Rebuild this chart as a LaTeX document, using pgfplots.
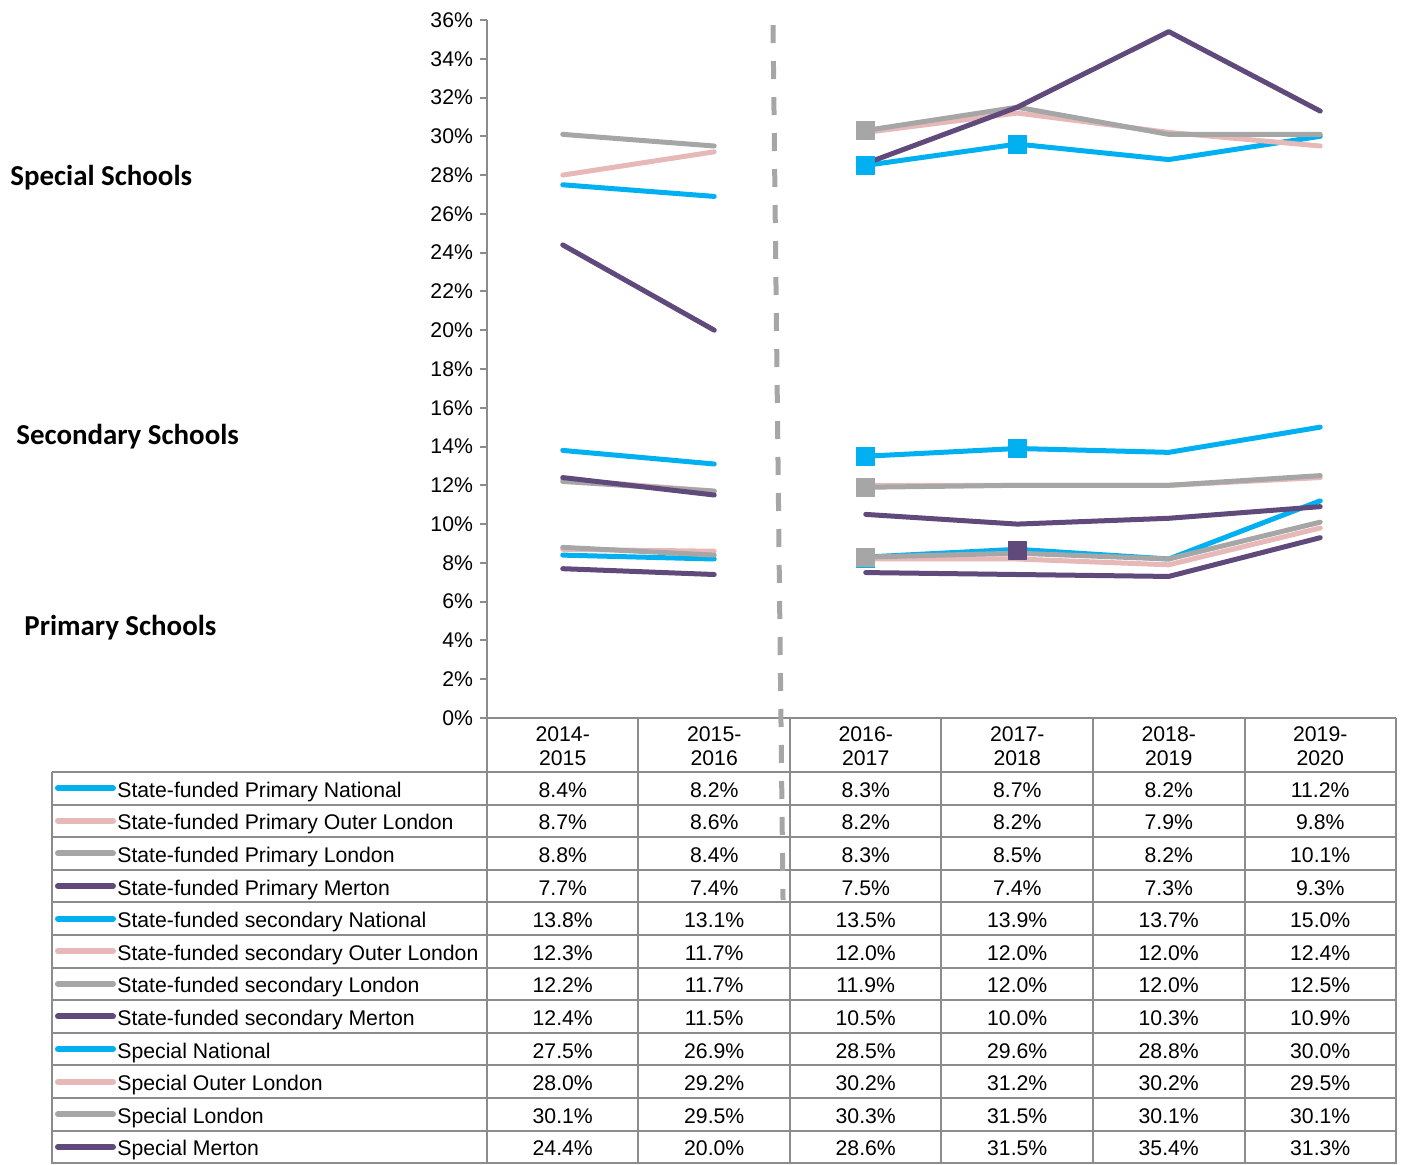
\documentclass[border=0pt]{standalone}
\usepackage{pgfplots}
\pgfplotsset{compat=1.18}
\usepackage{fontspec}
\setmainfont{Liberation Sans}
\newfontfamily\calibri{Carlito}
\definecolor{cBlue}{HTML}{00B0F0}
\definecolor{cPink}{HTML}{E6B9B8}
\definecolor{cGrey}{HTML}{A6A6A6}
\definecolor{cPurple}{HTML}{604A7B}
\definecolor{cLine}{HTML}{8C8C8C}
\newcommand{\fs}{\fontsize{10.65}{12.8}\selectfont}
\newcommand{\lfs}{\calibri\bfseries\fontsize{14.5}{17}\selectfont}
% row: #1 index, #2 colour, #3 label, #4-#9 values
\newcommand{\trow}[9]{%
  \draw[#2, line width=3bp, line cap=round] (axis cs:-3.3317,{-2.7851-1.68137*(#1+0.5)}) -- (axis cs:-2.9686,{-2.7851-1.68137*(#1+0.5)});
  \node[anchor=base west, inner sep=0, font=\fs] at (axis cs:-2.9422,{-3.25-1.68137*(#1+0.5)}) {#3};
  \node[anchor=base, inner sep=0, font=\fs] at (axis cs:0,{-3.25-1.68137*(#1+0.5)}) {#4};
  \node[anchor=base, inner sep=0, font=\fs] at (axis cs:1,{-3.25-1.68137*(#1+0.5)}) {#5};
  \node[anchor=base, inner sep=0, font=\fs] at (axis cs:2,{-3.25-1.68137*(#1+0.5)}) {#6};
  \node[anchor=base, inner sep=0, font=\fs] at (axis cs:3,{-3.25-1.68137*(#1+0.5)}) {#7};
  \node[anchor=base, inner sep=0, font=\fs] at (axis cs:4,{-3.25-1.68137*(#1+0.5)}) {#8};
  \node[anchor=base, inner sep=0, font=\fs] at (axis cs:5,{-3.25-1.68137*(#1+0.5)}) {#9};
}
\begin{document}
\begin{tikzpicture}
\begin{axis}[
  scale only axis, width=454.5bp, height=349bp,
  xmin=-0.5, xmax=5.5, ymin=0, ymax=36,
  axis y line=left, axis x line=none,
  axis line style={-},
  y axis line style={cLine, line width=1bp, -},
  ytick={0,2,...,36}, xtick=\empty,
  tick align=outside, major tick length=3.5bp,
  ytick style={cLine, line width=1bp},
  yticklabel={\pgfmathprintnumber{\tick}\%},
  tick label style={font=\fs},
  /pgf/number format/assume math mode=true,
  clip=false, unbounded coords=jump,
  every axis plot/.append style={line width=2.5bp, line cap=round, line join=round},
  marks/.style={only marks, mark=square*, mark size=4.5bp, mark options={solid, line width=0.5bp}},
]
% bounding box
\path (axis cs:-3.7145,37.031) rectangle (axis cs:5.5594,-22.951);

% Primary
\addplot[cPurple, marks] coordinates {(3,8.65)};
\addplot[cBlue] coordinates {(0,8.4)(1,8.2)(1.5,nan)(2,8.3)(3,8.7)(4,8.2)(5,11.2)};
\addplot[cBlue, marks] coordinates {(2,8.2)};
\addplot[cPink] coordinates {(0,8.7)(1,8.6)(1.5,nan)(2,8.2)(3,8.2)(4,7.9)(5,9.8)};
\addplot[cGrey] coordinates {(0,8.8)(1,8.4)(1.5,nan)(2,8.3)(3,8.5)(4,8.2)(5,10.1)};
\addplot[cGrey, marks] coordinates {(2,8.3)};
\addplot[cPurple] coordinates {(0,7.7)(1,7.4)(1.5,nan)(2,7.5)(3,7.4)(4,7.3)(5,9.3)};
% Secondary
\addplot[cBlue] coordinates {(0,13.8)(1,13.1)(1.5,nan)(2,13.5)(3,13.9)(4,13.7)(5,15.0)};
\addplot[cBlue, marks] coordinates {(2,13.5)(3,13.9)};
\addplot[cPink] coordinates {(0,12.3)(1,11.7)(1.5,nan)(2,12.0)(3,12.0)(4,12.0)(5,12.4)};
\addplot[cGrey] coordinates {(0,12.2)(1,11.7)(1.5,nan)(2,11.9)(3,12.0)(4,12.0)(5,12.5)};
\addplot[cGrey, marks] coordinates {(2,11.9)};
\addplot[cPurple] coordinates {(0,12.4)(1,11.5)(1.5,nan)(2,10.5)(3,10.0)(4,10.3)(5,10.9)};
% Special
\addplot[cBlue] coordinates {(0,27.5)(1,26.9)(1.5,nan)(2,28.5)(3,29.6)(4,28.8)(5,30.0)};
\addplot[cBlue, marks] coordinates {(2,28.5)(3,29.6)};
\addplot[cPink] coordinates {(0,28.0)(1,29.2)(1.5,nan)(2,30.2)(3,31.2)(4,30.2)(5,29.5)};
\addplot[cGrey] coordinates {(0,30.1)(1,29.5)(1.5,nan)(2,30.3)(3,31.5)(4,30.1)(5,30.1)};
\addplot[cGrey, marks] coordinates {(2,30.3)};
\addplot[cPurple] coordinates {(0,24.4)(1,20.0)(1.5,nan)(2,28.6)(3,31.5)(4,35.4)(5,31.3)};

% table grid
\draw[cLine, line width=1bp] (axis cs:-0.5,0) -- (axis cs:5.5,0);
\pgfplotsinvokeforeach{0,...,12}{
  \draw[cLine, line width=1bp] (axis cs:-3.3713,{-2.7851-1.68137*#1}) -- (axis cs:5.5,{-2.7851-1.68137*#1});
}
\pgfplotsinvokeforeach{-0.5,0.5,1.5,2.5,3.5,4.5,5.5}{
  \draw[cLine, line width=1bp] (axis cs:#1,0) -- (axis cs:#1,-22.99);
}
\draw[cLine, line width=1bp] (axis cs:-3.3713,-2.7851) -- (axis cs:-3.3713,-22.99);

% header
\node[anchor=base, inner sep=0, font=\fs] at (axis cs:0,-1.235) {2014-};
\node[anchor=base, inner sep=0, font=\fs] at (axis cs:0,-2.472) {2015};
\node[anchor=base, inner sep=0, font=\fs] at (axis cs:1,-1.235) {2015-};
\node[anchor=base, inner sep=0, font=\fs] at (axis cs:1,-2.472) {2016};
\node[anchor=base, inner sep=0, font=\fs] at (axis cs:2,-1.235) {2016-};
\node[anchor=base, inner sep=0, font=\fs] at (axis cs:2,-2.472) {2017};
\node[anchor=base, inner sep=0, font=\fs] at (axis cs:3,-1.235) {2017-};
\node[anchor=base, inner sep=0, font=\fs] at (axis cs:3,-2.472) {2018};
\node[anchor=base, inner sep=0, font=\fs] at (axis cs:4,-1.235) {2018-};
\node[anchor=base, inner sep=0, font=\fs] at (axis cs:4,-2.472) {2019};
\node[anchor=base, inner sep=0, font=\fs] at (axis cs:5,-1.235) {2019-};
\node[anchor=base, inner sep=0, font=\fs] at (axis cs:5,-2.472) {2020};

% rows
\trow{0}{cBlue}{State-funded Primary National}{8.4\%}{8.2\%}{8.3\%}{8.7\%}{8.2\%}{11.2\%}
\trow{1}{cPink}{State-funded Primary Outer London}{8.7\%}{8.6\%}{8.2\%}{8.2\%}{7.9\%}{9.8\%}
\trow{2}{cGrey}{State-funded Primary London}{8.8\%}{8.4\%}{8.3\%}{8.5\%}{8.2\%}{10.1\%}
\trow{3}{cPurple}{State-funded Primary Merton}{7.7\%}{7.4\%}{7.5\%}{7.4\%}{7.3\%}{9.3\%}
\trow{4}{cBlue}{State-funded secondary National}{13.8\%}{13.1\%}{13.5\%}{13.9\%}{13.7\%}{15.0\%}
\trow{5}{cPink}{State-funded secondary Outer London}{12.3\%}{11.7\%}{12.0\%}{12.0\%}{12.0\%}{12.4\%}
\trow{6}{cGrey}{State-funded secondary London}{12.2\%}{11.7\%}{11.9\%}{12.0\%}{12.0\%}{12.5\%}
\trow{7}{cPurple}{State-funded secondary Merton}{12.4\%}{11.5\%}{10.5\%}{10.0\%}{10.3\%}{10.9\%}
\trow{8}{cBlue}{Special National}{27.5\%}{26.9\%}{28.5\%}{29.6\%}{28.8\%}{30.0\%}
\trow{9}{cPink}{Special Outer London}{28.0\%}{29.2\%}{30.2\%}{31.2\%}{30.2\%}{29.5\%}
\trow{10}{cGrey}{Special London}{30.1\%}{29.5\%}{30.3\%}{31.5\%}{30.1\%}{30.1\%}
\trow{11}{cPurple}{Special Merton}{24.4\%}{20.0\%}{28.6\%}{31.5\%}{35.4\%}{31.3\%}

% dashed separator
\draw[cGrey, line width=2.5bp, dash pattern=on 9bp off 9bp] (axis cs:1.388,35.74) -- (axis cs:1.454,-9.39);

% group labels
\node[anchor=west, inner sep=0, font=\lfs] at (axis cs:-3.6485,27.85) {Special Schools};
\node[anchor=west, inner sep=0, font=\lfs] at (axis cs:-3.6089,14.5) {Secondary Schools};
\node[anchor=west, inner sep=0, font=\lfs] at (axis cs:-3.5561,4.64) {Primary Schools};
\end{axis}
\end{tikzpicture}
\end{document}
